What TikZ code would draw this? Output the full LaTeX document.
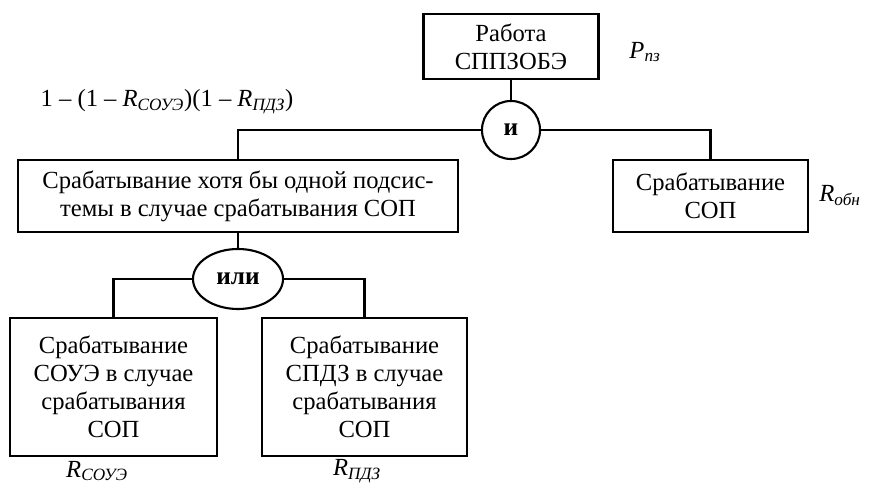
\documentclass[tikz,border=0pt]{standalone}
\usepackage{fontspec}
\setmainfont{Liberation Serif}
\usetikzlibrary{shapes.geometric}

\begin{document}
\begin{tikzpicture}[x=0.025cm,y=-0.025cm, line width=1.5pt,
  box/.style={draw,rectangle,align=center,font=\fontsize{17.5}{20}\selectfont,inner sep=2pt},
  gate/.style={draw,align=center,font=\fontsize{18}{20}\selectfont\bfseries,inner sep=0pt},
  lab/.style={font=\fontsize{17.5}{20}\selectfont\itshape,inner sep=0pt}]
\useasboundingbox (0,0) rectangle (877,484);
\node[box,minimum width=4.375cm,minimum height=1.625cm] (top) at (511,46.5) {Работа\\СППЗОБЭ};
\node[gate,circle,minimum size=1.45cm] (andg) at (511,130) {и};
\node[box,minimum width=11cm,minimum height=1.8cm] (left) at (238,196) {Срабатывание хотя бы одной подсис-\\темы в случае срабатывания СОП};
\node[box,minimum width=4.875cm,minimum height=1.8cm] (right) at (710.5,196) {Срабатывание\\СОП};
\node[gate,ellipse,minimum width=2.25cm,minimum height=1.5cm] (org) at (238,279) {или};
\node[box,minimum width=5.175cm,minimum height=3.45cm] (bl) at (113.5,387) {Срабатывание\\СОУЭ в случае\\срабатывания\\СОП};
\node[box,minimum width=5.125cm,minimum height=3.45cm] (br) at (364.5,387) {Срабатывание\\СПДЗ в случае\\срабатывания\\СОП};
% labels
\node[lab] (pt) at (645,52) {P\textsubscript{пз}};
\node[lab] (form) at (167,102) {\upshape 1 – (1 – \textit{R}\textsubscript{\textit{СОУЭ}})(1 – \textit{R}\textsubscript{\textit{ПДЗ}})};
\node[lab] (rob) at (840,196) {R\textsubscript{обн}};
\node[lab] (rsou) at (97,471) {R\textsubscript{СОУЭ}};
\node[lab] (rpdz) at (357,471) {R\textsubscript{ПДЗ}};
% links
\draw (top.south)--(andg.north);
\draw (andg.west)-|(left.north); \draw (andg.east)-|(right.north);
\draw (left.south)--(org.north);
\draw (org.west)-|(bl.north); \draw (org.east)-|(br.north);
\end{tikzpicture}
\end{document}
